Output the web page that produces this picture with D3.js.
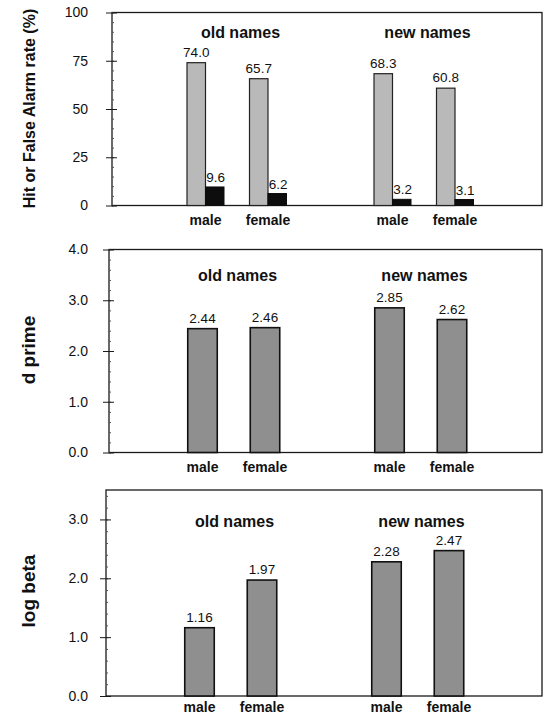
<!DOCTYPE html>
<html>
<head>
<meta charset="utf-8">
<script src="https://cdn.jsdelivr.net/npm/d3@7"></script>
<style>
  body { margin: 0; background: #fff; }
  text { font-family: Arial, "Liberation Sans", Helvetica, sans-serif; fill: #111; }
</style>
</head>
<body>
<script>
const svgWidth = 545;
const svgHeight = 716;

// data, order: old-male, old-female, new-male, new-female
const groups = ["old names", "new names"];
const genders = ["male", "female"];
const hitRate = [74.0, 65.7, 68.3, 60.8];
const faRate = [9.6, 6.2, 3.2, 3.1];
const dPrime = [2.44, 2.46, 2.85, 2.62];
const logBeta = [1.16, 1.97, 2.28, 2.47];

const hitTicks = [0, 25, 50, 75, 100];
const dTicks = [0, 1, 2, 3, 4];
const betaTicks = [0, 1, 2, 3];

const cells = [];
groups.forEach(function (g, gi) {
    genders.forEach(function (s, si) {
        cells.push({ group: g, gender: s, i: gi * 2 + si });
    });
});

const svg = d3.select("body").append("svg")
    .attr("width", svgWidth)
    .attr("height", svgHeight);

const frameRight = 542;
const labelRight = 88;

const panels = [
    { left: 112, top: 12.5, bottom: 205.5, max: 100, ticks: hitTicks, fmt: d3.format("d"), minor: 5,
      title: "Hit or False Alarm rate (%)", titleSize: 16, titleY: 108.5, groupY: 25, catY: 19 },
    { left: 109, top: 249.5, bottom: 452.5, max: 4, ticks: dTicks, fmt: d3.format(".1f"), minor: 0.2,
      title: "d prime", titleSize: 19, titleY: 350, groupY: 31, catY: 19, values: dPrime },
    { left: 106, top: 490, bottom: 696, max: 3.5, ticks: betaTicks, fmt: d3.format(".1f"), minor: 0.2,
      title: "log beta", titleSize: 19, titleY: 591, groupY: 37, catY: 16, values: logBeta }
];

panels.forEach(function (p, pi) {
    const width = frameRight - p.left;
    const g = svg.append("g").attr("transform", `translate(${p.left},0)`);

    const y = d3.scaleLinear().domain([0, p.max]).range([p.bottom, p.top]);
    const x0 = d3.scaleBand().domain(groups).range([31, 405]);
    const x1 = d3.scalePoint().domain(genders).range([62.5, 125]);
    const cx = d => x0(d.group) + x1(d.gender);

    // frame
    g.append("rect")
        .attr("x", 0).attr("y", p.top)
        .attr("width", width).attr("height", p.bottom - p.top)
        .attr("fill", "none")
        .attr("stroke", "#1a1a1a")
        .attr("stroke-width", 1.3);

    // minor ticks
    const minorVals = d3.range(0, p.max + 1e-9, p.minor);
    g.append("g")
        .call(d3.axisLeft(y).tickValues(minorVals).tickSize(-2).tickFormat(""))
        .call(a => a.select(".domain").remove())
        .selectAll("line").attr("stroke", "#555");

    // major ticks, outside with labels
    g.append("g")
        .call(d3.axisLeft(y).tickValues(p.ticks).tickSize(6)
            .tickPadding(p.left - labelRight - 6).tickFormat(p.fmt))
        .call(a => a.select(".domain").remove())
        .call(a => a.selectAll("text").attr("font-size", 14).attr("fill", "#111"))
        .selectAll("line").attr("stroke", "#1a1a1a");

    // major ticks, inside part
    g.append("g")
        .call(d3.axisLeft(y).tickValues(p.ticks).tickSize(-5).tickFormat(""))
        .call(a => a.select(".domain").remove())
        .selectAll("line").attr("stroke", "#1a1a1a");

    // axis title
    svg.append("text")
        .attr("transform", `translate(35,${p.titleY}) rotate(-90)`)
        .attr("text-anchor", "middle")
        .attr("font-size", p.titleSize)
        .attr("font-weight", "bold")
        .text(p.title);

    // group titles
    g.selectAll(".group-title").data(groups).join("text")
        .attr("class", "group-title")
        .attr("x", d => x0(d) + x0.bandwidth() / 2 + 4)
        .attr("y", p.top + p.groupY)
        .attr("text-anchor", "middle")
        .attr("font-size", 16)
        .attr("font-weight", "bold")
        .text(d => d);

    // category labels
    g.selectAll(".cat").data(cells).join("text")
        .attr("class", "cat")
        .attr("x", cx)
        .attr("y", p.bottom + p.catY)
        .attr("text-anchor", "middle")
        .attr("font-size", 14)
        .attr("font-weight", "bold")
        .text(d => d.gender);

    if (pi === 0) {
        const bw = 18.5;
        // labels first, bars drawn over them
        g.selectAll(".hit-label").data(cells).join("text")
            .attr("x", d => cx(d) - bw / 2)
            .attr("y", d => y(hitRate[d.i]) - 6)
            .attr("text-anchor", "middle")
            .attr("font-size", 13.5)
            .text(d => hitRate[d.i].toFixed(1));
        g.selectAll(".fa-label").data(cells).join("text")
            .attr("x", d => cx(d) + bw / 2 + 1)
            .attr("y", d => y(faRate[d.i]) - 5)
            .attr("text-anchor", "middle")
            .attr("font-size", 13.5)
            .text(d => faRate[d.i].toFixed(1));

        g.selectAll(".hit").data(cells).join("rect")
            .attr("x", d => cx(d) - bw)
            .attr("y", d => y(hitRate[d.i]))
            .attr("width", bw)
            .attr("height", d => y(0) - y(hitRate[d.i]))
            .attr("fill", "#b9b9b9")
            .attr("stroke", "#222")
            .attr("stroke-width", 1.2);
        g.selectAll(".fa").data(cells).join("rect")
            .attr("x", d => cx(d))
            .attr("y", d => y(faRate[d.i]))
            .attr("width", bw)
            .attr("height", d => y(0) - y(faRate[d.i]))
            .attr("fill", "#0d0d0d")
            .attr("stroke", "#0d0d0d")
            .attr("stroke-width", 1);
    } else {
        const bw = 29.5;
        g.selectAll(".bar").data(cells).join("rect")
            .attr("x", d => cx(d) - bw / 2)
            .attr("y", d => y(p.values[d.i]))
            .attr("width", bw)
            .attr("height", d => y(0) - y(p.values[d.i]))
            .attr("fill", "#8f8f8f")
            .attr("stroke", "#111")
            .attr("stroke-width", 1.6);
        g.selectAll(".val").data(cells).join("text")
            .attr("x", cx)
            .attr("y", d => y(p.values[d.i]) - 6)
            .attr("text-anchor", "middle")
            .attr("font-size", 13.5)
            .text(d => p.values[d.i].toFixed(2));
    }
});
</script>
</body>
</html>
